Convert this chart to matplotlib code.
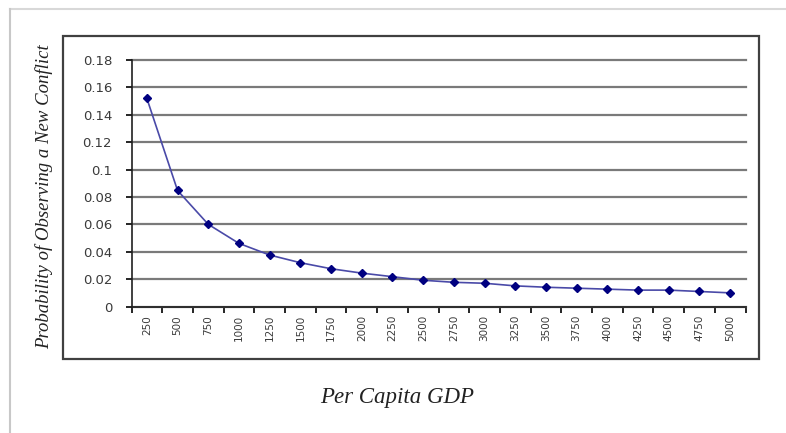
import numpy as np
import matplotlib.pyplot as plt
from matplotlib.patches import Rectangle
from matplotlib.lines import Line2D

gdp = [250, 500, 750, 1000, 1250, 1500, 1750, 2000, 2250, 2500,
       2750, 3000, 3250, 3500, 3750, 4000, 4250, 4500, 4750, 5000]
prob = [0.152, 0.0848, 0.0601, 0.0462, 0.0377, 0.0321, 0.0277, 0.0245, 0.0219, 0.0193,
        0.0178, 0.0171, 0.0152, 0.0142, 0.0135, 0.0128, 0.0121, 0.0121, 0.0111, 0.0101]
yticks = [0, 0.02, 0.04, 0.06, 0.08, 0.1, 0.12, 0.14, 0.16, 0.18]
ylabels = ['0', '0.02', '0.04', '0.06', '0.08', '0.1', '0.12', '0.14', '0.16', '0.18']

W, H = 786, 433
fig = plt.figure(figsize=(W / 100, H / 100), dpi=100)
fig.patch.set_facecolor('white')

# page edges (light grey) and chart box
fig.add_artist(Line2D([10 / W, 1], [1 - 9 / H, 1 - 9 / H], color='#d8d8d8', lw=1.5))
fig.add_artist(Line2D([10 / W, 10 / W], [0, 1 - 9 / H], color='#c8c8c8', lw=1.5))
fig.add_artist(Rectangle((63 / W, 1 - 359 / H), (759 - 63) / W, (359 - 36) / H,
                         fill=False, ec='#404040', lw=1.6))

ax = fig.add_axes([131.5 / W, 1 - 306.7 / H, (745.5 - 131.5) / W, (306.7 - 60) / H])
x = np.arange(1, len(gdp) + 1)
ax.plot(x, prob, color='#4a4aa8', lw=1.2, marker='D', ms=4.5,
        mfc='#000080', mec='#000080', zorder=3)

ax.set_xlim(0.5, len(gdp) + 0.5)
ax.set_ylim(0, 0.18)
ax.set_yticks(yticks)
ax.set_yticklabels(ylabels, fontsize=9.5, color='#3a3a3a', fontfamily='DejaVu Sans')
ax.yaxis.grid(True, color='#7a7a7a', lw=1.6, clip_on=False)
ax.set_axisbelow(True)

ax.set_xticks(np.arange(0.5, len(gdp) + 1, 1.0))
ax.set_xticklabels([])
ax.set_xticks(x, minor=True)
ax.set_xticklabels([str(g) for g in gdp], minor=True, rotation=90,
                   fontsize=7.5, color='#3a3a3a', fontfamily='DejaVu Sans')
ax.tick_params(axis='x', which='major', length=4, direction='out', width=1.2)
ax.tick_params(axis='x', which='minor', length=0, pad=6)
ax.tick_params(axis='y', length=4, direction='out', width=1.2, pad=10)

for s in ['top', 'right']:
    ax.spines[s].set_visible(False)
ax.spines['left'].set_color('#202020')
ax.spines['bottom'].set_color('#202020')
ax.spines['left'].set_linewidth(1.2)
ax.spines['bottom'].set_linewidth(1.2)

fig.text(397 / W, 1 - 397 / H, 'Per Capita GDP', ha='center', va='center',
         fontsize=16.5, style='italic', fontfamily='Liberation Serif', color='#222222')
fig.text(44 / W, 1 - 197 / H, 'Probability of Observing a New Conflict', ha='center',
         va='center', rotation=90, fontsize=13.5, style='italic',
         fontfamily='Liberation Serif', color='#222222')

fig.savefig('out.png', dpi=100)
